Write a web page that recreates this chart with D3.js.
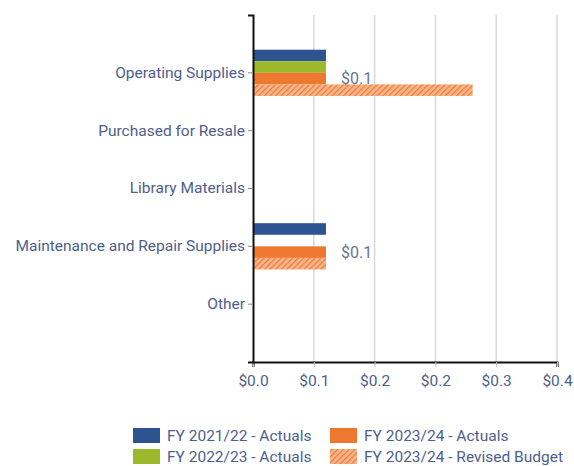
<!DOCTYPE html>
<html>
<head>
<meta charset="utf-8">
<script src="https://cdn.jsdelivr.net/npm/d3@7"></script>
<style>
  body { margin: 0; background: #fff; }
  text { font-family: Roboto, sans-serif; }
</style>
</head>
<body>
<svg class="chart"></svg>
<script>
let width = 574, height = 466;
let margin = { top: 15, right: 17, bottom: 104, left: 253 };
let w = width - margin.left - margin.right;
let h = height - margin.top - margin.bottom;

// data
let categories = ["Operating Supplies", "Purchased for Resale", "Library Materials", "Maintenance and Repair Supplies", "Other"];
let fy2122 = [0.096, 0, 0, 0.096, 0];
let fy2223 = [0.096, 0, 0, 0, 0];
let fy2324 = [0.096, 0, 0, 0.096, 0];
let budget = [0.289, 0, 0, 0.096, 0];
let valueLabels = ["$0.1", "", "", "$0.1", ""];
let xTicks = [0, 0.08, 0.16, 0.24, 0.32, 0.4];
let seriesNames = ["FY 2021/22 - Actuals", "FY 2022/23 - Actuals", "FY 2023/24 - Actuals", "FY 2023/24 - Revised Budget"];
let seriesValues = [fy2122, fy2223, fy2324, budget];
let colors = ["#2d5391", "#9bb92a", "#ef7831", "url(#hatch)"];

let svg = d3.select(".chart")
  .attr("width", width)
  .attr("height", height);

// hatched fill for revised budget
let pat = svg.append("defs").append("pattern")
  .attr("id", "hatch")
  .attr("patternUnits", "userSpaceOnUse")
  .attr("width", 4).attr("height", 4)
  .attr("patternTransform", "rotate(45)");
pat.append("rect").attr("width", 4).attr("height", 4).attr("fill", "#f6b58c");
pat.append("line").attr("x1", 0).attr("y1", 0).attr("x2", 0).attr("y2", 4)
  .attr("stroke", "#f07a33").attr("stroke-width", 2.4);

let chart = svg.append("g")
  .attr("transform", "translate(" + margin.left + "," + margin.top + ")");

let x = d3.scaleLinear().domain([0, 0.4]).range([0, w]);
let y = d3.scaleBand().domain(categories).range([0, h]).paddingInner(0).paddingOuter(0.5);
let inner = d3.scaleBand().domain(d3.range(4)).range([0, y.bandwidth() * 0.8]);

// gridlines
chart.append("g")
  .selectAll("line")
  .data(xTicks.slice(1))
  .join("line")
  .attr("x1", d => x(d)).attr("x2", d => x(d))
  .attr("y1", 0).attr("y2", h)
  .attr("stroke", "#d9d9d9")
  .attr("stroke-width", 1.5);

// bars
categories.forEach((c, i) => {
  let g = chart.append("g")
    .attr("transform", "translate(0," + (y(c) + y.bandwidth() * 0.1) + ")");
  seriesValues.forEach((vals, s) => {
    if (vals[i] > 0) {
      g.append("rect")
        .attr("x", 0)
        .attr("y", inner(s))
        .attr("width", x(vals[i]))
        .attr("height", inner.bandwidth())
        .attr("fill", colors[s]);
    }
  });
  if (valueLabels[i]) {
    g.append("text")
      .attr("x", x(fy2324[i]) + 15)
      .attr("y", inner(2) + inner.bandwidth() / 2)
      .attr("dy", "0.35em")
      .attr("fill", "#6b7391")
      .style("font-size", "16px")
      .text(valueLabels[i]);
  }
});

// axes
let xAxis = chart.append("g")
  .attr("transform", "translate(0," + h + ")")
  .call(d3.axisBottom(x).tickValues(xTicks).tickFormat(d3.format("$.1f")).tickSize(5).tickPadding(8));
xAxis.select(".domain").attr("stroke", "#111").attr("stroke-width", 2);
xAxis.selectAll(".tick line").attr("stroke", "#bbb");
xAxis.selectAll("text").attr("fill", "#4f5e8c").style("font-size", "15.5px");

let yAxis = chart.append("g")
  .call(d3.axisLeft(y).tickSize(5).tickPadding(3));
yAxis.select(".domain").attr("stroke", "#111").attr("stroke-width", 2);
yAxis.selectAll(".tick line").attr("stroke", "#888");
yAxis.selectAll("text").attr("fill", "#4f5e8c").style("font-size", "15.5px");

// legend
let legend = svg.append("g");
seriesNames.forEach((name, i) => {
  let lx = [133, 330][i < 2 ? 0 : 1];
  let ly = [428, 449][i % 2];
  legend.append("rect")
    .attr("x", lx).attr("y", ly)
    .attr("width", 27).attr("height", 15)
    .attr("fill", colors[i]);
  legend.append("text")
    .attr("x", lx + 34).attr("y", ly + 8)
    .attr("dy", "0.35em")
    .attr("fill", "#4f5e8c")
    .style("font-size", "15.5px")
    .text(name);
});
</script>
</body>
</html>
